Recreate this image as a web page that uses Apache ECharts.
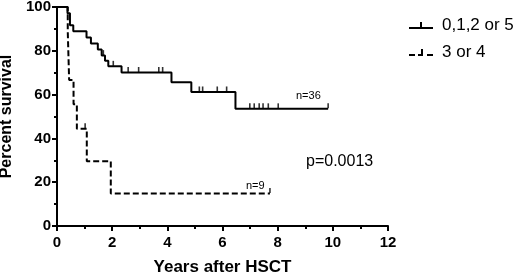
<!DOCTYPE html>
<html>
<head>
<meta charset="utf-8">
<script src="https://cdn.jsdelivr.net/npm/echarts@6/dist/echarts.min.js"></script>
<style>
    html, body { margin: 0; padding: 0; background: #fff; }
    #chart { width: 520px; height: 275px; }
</style>
</head>
<body>
<div id="chart"></div>
<script>
// Kaplan-Meier steps (years, percent)
var solidTime = [0, 0.38, 0.47, 0.59, 1.07, 1.23, 1.48, 1.62, 1.74, 1.86, 2.34, 4.15, 4.87, 6.47, 9.83];
var solidSurv = [100, 97.2, 91.7, 88.9, 86.1, 83.3, 80.6, 77.8, 75.5, 72.9, 70.1, 65.6, 61.2, 53.5, 53.5];
var dashTime = [0, 0.39, 0.44, 0.60, 0.72, 1.08, 1.95, 7.72];
var dashSurv = [100, 88.9, 66.7, 55.6, 44.4, 29.6, 14.8, 14.8];

// censored marks
var solidCensTime = [1.68, 2.04, 2.58, 2.96, 3.69, 3.83, 5.16, 5.28, 5.81, 6.15, 6.99, 7.15, 7.33, 7.47, 7.66, 8.02, 9.83];
var solidCensSurv = [77.8, 72.9, 70.1, 70.1, 70.1, 70.1, 61.2, 61.2, 61.2, 61.2, 53.5, 53.5, 53.5, 53.5, 53.5, 53.5, 53.5];
var dashCensTime = [1.02, 7.72];
var dashCensSurv = [44.4, 14.8];

var seriesNames = ['0,1,2 or 5', '3 or 4'];
var xTicks = [0, 2, 4, 6, 8, 10, 12];
var yTicks = [0, 20, 40, 60, 80, 100];

function zip(a, b) {
    var out = [];
    for (var i = 0; i < a.length; i++) out.push([a[i], b[i]]);
    return out;
}

var chart = echarts.init(document.getElementById('chart'));
var bold = { color: '#000', fontFamily: 'Liberation Sans, Arial, sans-serif', fontWeight: 'bold', fontSize: 15 };

chart.setOption({
    animation: false,
    backgroundColor: '#fff',
    grid: { left: 57, right: 132, top: 7, bottom: 49, outerBoundsMode: 'none', containLabel: false },
    legend: {
        data: seriesNames.map(function (n, i) {
            return {
                name: n,
                icon: i === 0
                    ? 'path://M0,6h24v2H0z M11,1h2v5h-2z'
                    : 'path://M0,6h6v2H0z M9,6h5v2H9z M12,1h2v5h-2z M18,6h6v2h-6z'
            };
        }),
        orient: 'vertical',
        left: 404,
        top: 12,
        itemWidth: 24,
        itemHeight: 8,
        itemGap: 10,
        textStyle: { color: '#000', fontFamily: 'Liberation Sans, Arial, sans-serif', fontSize: 17, padding: [0, 0, 0, 4] }
    },
    xAxis: {
        type: 'value',
        min: 0, max: 12, interval: 2,
        name: 'Years after HSCT',
        nameLocation: 'middle',
        nameGap: 33,
        nameTextStyle: Object.assign({}, bold, { fontSize: 17 }),
        axisLine: { lineStyle: { color: '#000', width: 2 } },
        axisTick: { show: true, length: 5, lineStyle: { color: '#000', width: 2 } },
        minorTick: { show: true, splitNumber: 2, length: 3, lineStyle: { color: '#000', width: 2 } },
        axisLabel: Object.assign({}, bold, {
            margin: 9,
            formatter: function (v) { return xTicks.indexOf(v) >= 0 ? String(v) : ''; }
        }),
        splitLine: { show: false }
    },
    yAxis: {
        type: 'value',
        min: 0, max: 100, interval: 20,
        name: 'Percent survival',
        nameLocation: 'middle',
        nameGap: 37,
        nameTextStyle: Object.assign({}, bold, { fontSize: 16 }),
        axisLine: { show: true, lineStyle: { color: '#000', width: 2 } },
        axisTick: { show: true, length: 5, lineStyle: { color: '#000', width: 2 } },
        minorTick: { show: true, splitNumber: 2, length: 3, lineStyle: { color: '#000', width: 2 } },
        axisLabel: Object.assign({}, bold, {
            margin: 6,
            formatter: function (v) { return yTicks.indexOf(v) >= 0 ? String(v) : ''; }
        }),
        splitLine: { show: false }
    },
    graphic: [
        { type: 'text', left: 296, top: 90, style: { text: 'n=36', fill: '#000', font: '11px Liberation Sans, Arial, sans-serif' } },
        { type: 'text', left: 246, top: 180, style: { text: 'n=9', fill: '#000', font: '11px Liberation Sans, Arial, sans-serif' } },
        { type: 'text', left: 306, top: 154, style: { text: 'p=0.0013', fill: '#000', font: '16px Liberation Sans, Arial, sans-serif' } }
    ],
    series: [
        {
            name: seriesNames[0],
            type: 'line',
            step: 'end',
            symbol: 'none',
            itemStyle: { color: '#000' },
            lineStyle: { color: '#000', width: 2 },
            data: zip(solidTime, solidSurv)
        },
        {
            name: seriesNames[1],
            type: 'line',
            step: 'end',
            symbol: 'none',
            itemStyle: { color: '#000' },
            lineStyle: { color: '#000', width: 2, type: [6, 3] },
            data: zip(dashTime, dashSurv)
        },
        {
            name: seriesNames[0] + ' censored',
            type: 'scatter',
            symbol: 'rect',
            symbolSize: [1.6, 5],
            symbolOffset: [0, -3],
            itemStyle: { color: '#000' },
            data: zip(solidCensTime, solidCensSurv)
        },
        {
            name: seriesNames[1] + ' censored',
            type: 'scatter',
            symbol: 'rect',
            symbolSize: [1.6, 5],
            symbolOffset: [0, -3],
            itemStyle: { color: '#000' },
            data: zip(dashCensTime, dashCensSurv)
        }
    ]
});
</script>
</body>
</html>
